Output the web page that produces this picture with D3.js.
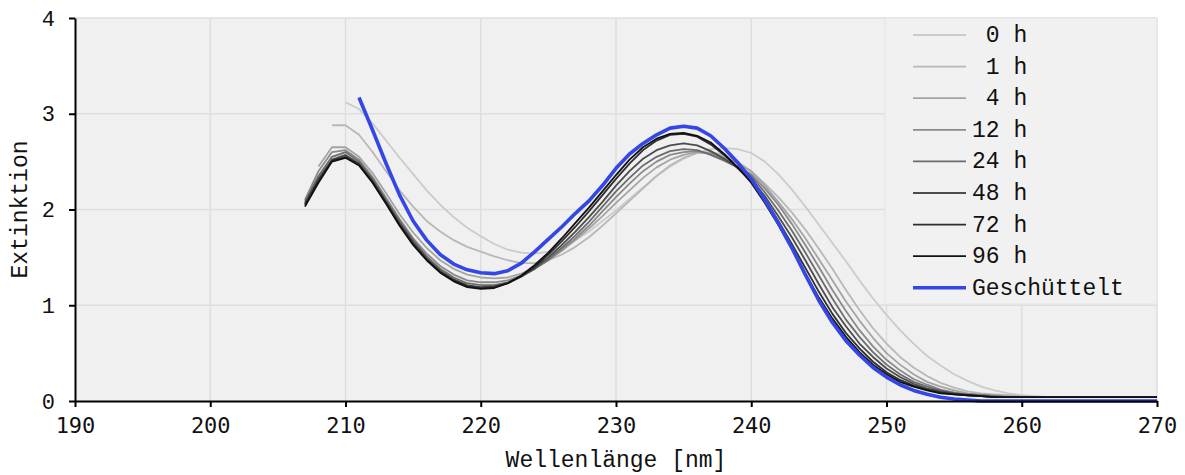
<!DOCTYPE html>
<html>
<head>
<meta charset="utf-8">
<script src="https://cdn.jsdelivr.net/npm/d3@7"></script>
<style>
  body { margin: 0; background: #fff; }
  svg text { fill: #111; }
</style>
</head>
<body>
<div id="chart"></div>
<script>
// Wellenlängen in nm (1 nm Schritte)
let wellenlaenge = [207, 208, 209,
  210, 211, 212, 213, 214, 215, 216, 217, 218, 219,
  220, 221, 222, 223, 224, 225, 226, 227, 228, 229,
  230, 231, 232, 233, 234, 235, 236, 237, 238, 239,
  240, 241, 242, 243, 244, 245, 246, 247, 248, 249,
  250, 251, 252, 253, 254, 255, 256, 257, 258, 259,
  260, 261, 262, 263, 264, 265, 266, 267, 268, 269, 270];

let ext0h = [null, null, null,
  3.12, 3.05, 2.90, 2.72, 2.54, 2.37, 2.20, 2.05, 1.92, 1.81,
  1.72, 1.64, 1.58, 1.55, 1.54, 1.56, 1.61, 1.68, 1.77, 1.88,
  1.99, 2.11, 2.23, 2.35, 2.45, 2.53, 2.59, 2.63, 2.64, 2.63,
  2.59, 2.50, 2.37, 2.21, 2.03, 1.84, 1.65, 1.46, 1.26, 1.07,
  0.90, 0.74, 0.60, 0.47, 0.37, 0.28, 0.21, 0.15, 0.11, 0.08,
  0.06, 0.05, 0.04, 0.04, 0.04, 0.04, 0.04, 0.04, 0.04, 0.04, 0.04];

let ext1h = [null, null, 2.88,
  2.88, 2.78, 2.60, 2.40, 2.20, 2.03, 1.88, 1.77, 1.68, 1.61,
  1.56, 1.51, 1.47, 1.44, 1.44, 1.47, 1.53, 1.61, 1.71, 1.83,
  1.96, 2.09, 2.22, 2.35, 2.46, 2.54, 2.59, 2.60, 2.57, 2.50,
  2.40, 2.27, 2.13, 1.97, 1.79, 1.59, 1.38, 1.16, 0.95, 0.76,
  0.60, 0.46, 0.35, 0.26, 0.19, 0.14, 0.10, 0.08, 0.07, 0.06,
  0.05, 0.04, 0.04, 0.04, 0.04, 0.04, 0.04, 0.04, 0.04, 0.04, 0.04];

let ext4h = [null, 2.45, 2.65,
  2.65, 2.55, 2.38, 2.17, 1.95, 1.76, 1.60, 1.47, 1.38, 1.32,
  1.29, 1.28, 1.29, 1.33, 1.39, 1.47, 1.57, 1.68, 1.80, 1.93,
  2.07, 2.20, 2.33, 2.44, 2.52, 2.57, 2.60, 2.59, 2.55, 2.48,
  2.40, 2.25, 2.08, 1.90, 1.70, 1.48, 1.26, 1.04, 0.84, 0.66,
  0.50, 0.38, 0.28, 0.20, 0.15, 0.11, 0.08, 0.07, 0.06, 0.05,
  0.04, 0.04, 0.04, 0.04, 0.04, 0.04, 0.04, 0.04, 0.04, 0.04, 0.04];

let ext12h = [2.10, 2.40, 2.60,
  2.62, 2.52, 2.34, 2.12, 1.90, 1.70, 1.54, 1.41, 1.32, 1.26,
  1.24, 1.24, 1.26, 1.31, 1.38, 1.47, 1.58, 1.70, 1.83, 1.98,
  2.13, 2.27, 2.40, 2.50, 2.57, 2.60, 2.61, 2.58, 2.52, 2.45,
  2.37, 2.22, 2.05, 1.85, 1.63, 1.40, 1.16, 0.94, 0.74, 0.57,
  0.43, 0.32, 0.23, 0.17, 0.12, 0.09, 0.07, 0.06, 0.05, 0.04,
  0.04, 0.04, 0.04, 0.04, 0.04, 0.04, 0.04, 0.04, 0.04, 0.04, 0.04];

let ext24h = [2.08, 2.35, 2.55,
  2.60, 2.50, 2.32, 2.10, 1.88, 1.68, 1.51, 1.38, 1.29, 1.23,
  1.21, 1.21, 1.24, 1.30, 1.38, 1.48, 1.60, 1.73, 1.87, 2.03,
  2.19, 2.33, 2.46, 2.55, 2.61, 2.63, 2.62, 2.57, 2.51, 2.44,
  2.35, 2.18, 1.99, 1.78, 1.55, 1.31, 1.07, 0.85, 0.67, 0.51,
  0.38, 0.28, 0.20, 0.15, 0.11, 0.08, 0.07, 0.06, 0.05, 0.04,
  0.04, 0.04, 0.04, 0.04, 0.04, 0.04, 0.04, 0.04, 0.04, 0.04, 0.04];

let ext48h = [2.06, 2.32, 2.52,
  2.57, 2.48, 2.30, 2.08, 1.86, 1.66, 1.49, 1.36, 1.27, 1.21,
  1.19, 1.20, 1.23, 1.30, 1.39, 1.50, 1.63, 1.77, 1.92, 2.08,
  2.25, 2.40, 2.53, 2.62, 2.67, 2.69, 2.67, 2.61, 2.53, 2.44,
  2.32, 2.14, 1.93, 1.71, 1.47, 1.22, 0.98, 0.78, 0.60, 0.46,
  0.34, 0.25, 0.18, 0.13, 0.10, 0.08, 0.06, 0.05, 0.04, 0.04,
  0.04, 0.04, 0.04, 0.04, 0.04, 0.04, 0.04, 0.04, 0.04, 0.04, 0.04];

let ext72h = [2.05, 2.30, 2.51,
  2.55, 2.47, 2.29, 2.07, 1.84, 1.64, 1.48, 1.35, 1.26, 1.20,
  1.18, 1.19, 1.23, 1.30, 1.40, 1.53, 1.67, 1.82, 1.98, 2.15,
  2.32, 2.48, 2.62, 2.72, 2.78, 2.79, 2.76, 2.68, 2.57, 2.43,
  2.30, 2.10, 1.88, 1.64, 1.39, 1.14, 0.91, 0.71, 0.55, 0.41,
  0.30, 0.22, 0.16, 0.12, 0.09, 0.07, 0.06, 0.05, 0.04, 0.04,
  0.04, 0.04, 0.04, 0.04, 0.04, 0.04, 0.04, 0.04, 0.04, 0.04, 0.04];

let ext96h = [2.03, 2.28, 2.50,
  2.54, 2.46, 2.28, 2.06, 1.83, 1.63, 1.47, 1.34, 1.25, 1.19,
  1.17, 1.18, 1.23, 1.31, 1.42, 1.55, 1.70, 1.86, 2.02, 2.19,
  2.36, 2.52, 2.65, 2.74, 2.79, 2.80, 2.77, 2.70, 2.58, 2.44,
  2.28, 2.07, 1.84, 1.59, 1.33, 1.08, 0.86, 0.67, 0.51, 0.38,
  0.28, 0.20, 0.15, 0.11, 0.08, 0.07, 0.06, 0.05, 0.04, 0.04,
  0.04, 0.04, 0.04, 0.04, 0.04, 0.04, 0.04, 0.04, 0.04, 0.04, 0.04];

let extGeschuettelt = [null, null, null,
  null, 3.17, 2.83, 2.48, 2.15, 1.88, 1.68, 1.53, 1.43, 1.37,
  1.34, 1.33, 1.36, 1.44, 1.56, 1.69, 1.82, 1.96, 2.09, 2.25,
  2.43, 2.58, 2.69, 2.78, 2.85, 2.87, 2.85, 2.77, 2.64, 2.49,
  2.32, 2.10, 1.86, 1.60, 1.32, 1.05, 0.82, 0.63, 0.48, 0.35,
  0.25, 0.17, 0.11, 0.07, 0.04, 0.02, 0.01, 0.00, 0.00, 0.00,
  0.00, 0.00, 0.00, 0.00, 0.00, 0.00, 0.00, 0.00, 0.00, 0.00, 0.00];

let legendeTexte = [" 0 h", " 1 h", " 4 h", "12 h", "24 h", "48 h", "72 h", "96 h", "Geschüttelt"];
let xTicks = [190, 200, 210, 220, 230, 240, 250, 260, 270];
let yTicks = [0, 1, 2, 3, 4];

let reihen = [ext0h, ext1h, ext4h, ext12h, ext24h, ext48h, ext72h, ext96h, extGeschuettelt];
let farben = ["#cbcbcb", "#b8b8b8", "#a4a4a4", "#8a8a8a", "#6c6c6c", "#4c4c4c", "#2e2e2e", "#111111", "#3446e6"];
let breiten = [1.8, 1.8, 1.8, 1.8, 1.8, 1.8, 1.8, 1.8, 3.6];

let width = 1185,
  height = 475,
  margin = { top: 18, right: 28, bottom: 74, left: 75 };

let x = d3.scaleLinear().domain([190, 270]).range([margin.left, width - margin.right]);
let y = d3.scaleLinear().domain([0, 4]).range([height - margin.bottom, margin.top]);

let svg = d3.select("#chart")
  .append("svg")
  .attr("width", width)
  .attr("height", height);

// Hintergrund der Zeichenfläche
svg.append("rect")
  .attr("x", x(190))
  .attr("y", y(4))
  .attr("width", x(270) - x(190))
  .attr("height", y(0) - y(4))
  .style("fill", "#f0f0f0");

// Gitter
svg.append("g").selectAll("line")
  .data(xTicks.slice(1))
  .enter()
  .append("line")
  .attr("x1", d => x(d)).attr("x2", d => x(d))
  .attr("y1", y(0)).attr("y2", y(4))
  .style("stroke", "#dedede").style("stroke-width", 1.5);

svg.append("g").selectAll("line")
  .data(yTicks.slice(1))
  .enter()
  .append("line")
  .attr("x1", x(190)).attr("x2", x(270))
  .attr("y1", d => y(d)).attr("y2", d => y(d))
  .style("stroke", "#dedede").style("stroke-width", 1.5);

svg.append("clipPath").attr("id", "clip")
  .append("rect")
  .attr("x", x(190)).attr("y", y(4))
  .attr("width", x(270) - x(190)).attr("height", y(0) - y(4) + 2);

let linie = d3.line()
  .defined(d => d[1] != null)
  .x(d => x(d[0]))
  .y(d => y(d[1]));

svg.append("g")
  .attr("clip-path", "url(#clip)")
  .selectAll("path")
  .data(reihen)
  .enter()
  .append("path")
  .attr("d", d => linie(d.map((v, i) => [wellenlaenge[i], v])))
  .style("fill", "none")
  .style("stroke", (d, i) => farben[i])
  .style("stroke-width", (d, i) => breiten[i])
  .style("stroke-linejoin", "round");

// Achsen
let xAxis = svg.append("g")
  .attr("transform", "translate(0," + y(0) + ")")
  .call(d3.axisBottom(x).tickValues(xTicks).tickSize(6).tickPadding(10).tickSizeOuter(0));
xAxis.select(".domain").style("stroke-width", 2);
xAxis.selectAll(".tick line").style("stroke-width", 2);
xAxis.selectAll("text")
  .style("font-family", "'DejaVu Sans Mono', monospace")
  .style("font-size", "22px")
  .style("fill", "#111");

let yAxis = svg.append("g")
  .attr("transform", "translate(" + x(190) + ",0)")
  .call(d3.axisLeft(y).tickValues(yTicks).tickFormat(d3.format("d")).tickSize(6).tickPadding(14).tickSizeOuter(0));
yAxis.select(".domain").style("stroke-width", 2);
yAxis.selectAll(".tick line").style("stroke-width", 2);
yAxis.selectAll("text")
  .style("font-family", "'Liberation Mono', monospace")
  .style("font-size", "22px")
  .style("fill", "#111");

// Achsentitel
svg.append("text")
  .attr("x", (x(190) + x(270)) / 2)
  .attr("y", 467)
  .attr("text-anchor", "middle")
  .style("font-family", "'Liberation Mono', monospace")
  .style("font-size", "23px")
  .text("Wellenlänge [nm]");

svg.append("text")
  .attr("transform", "translate(27," + y(2) + ") rotate(-90)")
  .attr("text-anchor", "middle")
  .style("font-family", "'Liberation Mono', monospace")
  .style("font-size", "23px")
  .text("Extinktion");

// Legende
let legende = svg.append("g");
legende.append("rect")
  .attr("x", 885)
  .attr("y", y(4))
  .attr("width", x(270) - 885)
  .attr("height", 286)
  .style("fill", "#f1f1f1")
  .style("stroke", "#e4e4e4");

let eintrag = legende.selectAll("g.eintrag")
  .data(legendeTexte)
  .enter()
  .append("g")
  .attr("class", "eintrag")
  .attr("transform", (d, i) => "translate(0," + (35 + i * 31.6) + ")");

eintrag.append("line")
  .attr("x1", 913).attr("x2", 966)
  .attr("y1", 0).attr("y2", 0)
  .style("stroke", (d, i) => farben[i])
  .style("stroke-width", (d, i) => breiten[i]);

eintrag.append("text")
  .attr("x", 972)
  .attr("y", 7)
  .attr("xml:space", "preserve")
  .style("white-space", "pre")
  .style("font-family", "'Liberation Mono', monospace")
  .style("font-size", "23px")
  .text(d => d);
</script>
</body>
</html>
